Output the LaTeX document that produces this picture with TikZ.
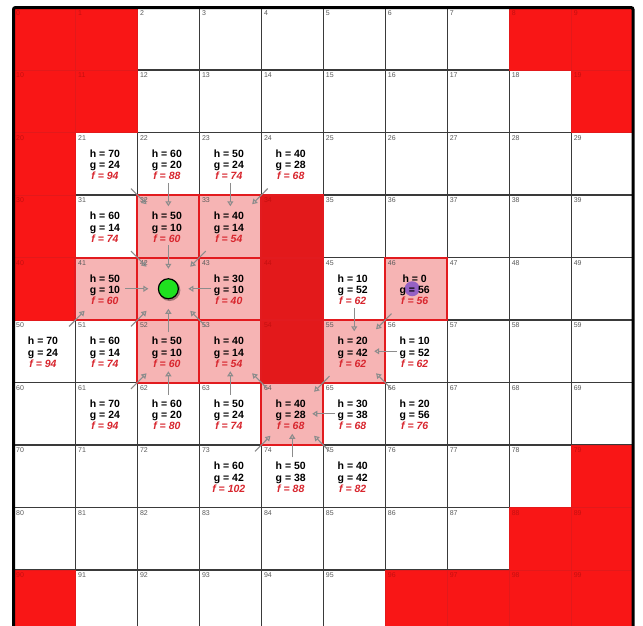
\documentclass[tikz,border=0pt]{standalone}
\usepackage{fontspec}
\setmainfont{Liberation Sans}
\usetikzlibrary{calc,arrows.meta}
\definecolor{obst}{HTML}{F91616}
\definecolor{wallc}{HTML}{E3191B}
\definecolor{pinkc}{HTML}{F6B4B4}
\definecolor{bordr}{HTML}{E21B1F}
\definecolor{fred}{HTML}{D8262E}
\definecolor{numg}{HTML}{5A5A5A}
\definecolor{numr}{HTML}{C41010}
\definecolor{arrg}{HTML}{8C8C8C}
\definecolor{gridc}{HTML}{3A3A3A}
\definecolor{startg}{HTML}{1FE11F}
\definecolor{goalp}{HTML}{8B58C6}
\begin{document}
\begin{tikzpicture}[x=1pt,y=-1pt,
  cellinfo/.style={align=center, font=\fontsize{10.5}{11.3}\selectfont\bfseries, inner sep=0pt},
  cellnum/.style={anchor=north west, font=\fontsize{7}{8}\selectfont, text=numg, inner sep=0pt},
  parr/.style={draw=arrg, line width=1.1pt, -{Triangle[open,length=5pt,width=6pt]}},
  orth/.style={shorten <=19pt, shorten >=20pt},
  diag/.style={shorten <=35pt, shorten >=31pt},
]
\def\X{13.5}\def\Y{7.5}\def\W{61.95}\def\H{62.5}
\useasboundingbox (0,0) rectangle (643,625);
\clip (0,0) rectangle (643,625);
\fill[white] (0,0) rectangle (643,625);
% cell coordinates
\foreach \n in {0,...,99} {
  \pgfmathtruncatemacro\rr{int(\n/10)}
  \pgfmathtruncatemacro\cc{mod(\n,10)}
  \coordinate (c\n) at ({\X+(\cc+0.5)*\W},{\Y+(\rr+0.5)*\H});
  \coordinate (tl\n) at ({\X+\cc*\W},{\Y+\rr*\H});
}
% grid
\foreach \i in {1,...,9} {
  \draw[gridc, line width=1.1pt] ({\X+\i*\W},\Y) -- ({\X+\i*\W},640);
  \draw[gridc, line width=1.1pt] (\X,{\Y+\i*\H}) -- ({\X+10*\W},{\Y+\i*\H});
}
% obstacles
\foreach \n in {0,1,8,9,10,11,19,20,30,40,79,88,89,90,96,97,98,99}
  \filldraw[fill=obst, draw=wallc, line width=0.6pt] (tl\n) rectangle ++(\W,\H);
% wall column
\foreach \n in {34,44,54}
  \filldraw[fill=wallc, draw=bordr, line width=2pt] (tl\n) rectangle ++(\W,\H);
% closed / open cells
\foreach \n in {32,33,41,42,43,52,53,46,55,64}
  \fill[pinkc] (tl\n) rectangle ++(\W,\H);
\foreach \n in {32,33,41,42,43,52,53,46,55,64}
  \draw[bordr, line width=2pt] (tl\n) rectangle ++(\W,\H);
% cell numbers
\foreach \n in {2,3,4,5,6,7,12,13,14,15,16,17,18,21,22,23,24,25,26,27,28,29,31,32,33,35,36,37,38,39,41,42,43,45,46,47,48,49,50,51,52,53,55,56,57,58,59,60,61,62,63,64,65,66,67,68,69,70,71,72,73,74,75,76,77,78,80,81,82,83,84,85,86,87,91,92,93,94,95}
  \node[cellnum] (n\n) at ($(tl\n)+(2.5,2.5)$) {\n};
\foreach \n in {0,1,8,9,10,11,19,20,30,40,79,88,89,90,96,97,98,99,34,44,54}
  \node[cellnum, text=numr] (n\n) at ($(tl\n)+(2.5,2.5)$) {\n};
% outer frame
\draw[black, line width=3pt, rounded corners=2pt] (\X,640) -- (\X,\Y) -- ({\X+10*\W},\Y) -- ({\X+10*\W},640);
% goal marker
\fill[goalp, opacity=0.9] ($(c46)+(-4,0)$) circle (7.5);
% cell values
\foreach \vn/\vh/\vg/\vf in {21/70/24/94, 22/60/20/88, 23/50/24/74, 24/40/28/68, 31/60/14/74, 32/50/10/60, 33/40/14/54, 41/50/10/60, 43/30/10/40, 45/10/52/62, 46/0/56/56, 50/70/24/94, 51/60/14/74, 52/50/10/60, 53/40/14/54, 55/20/42/62, 56/10/52/62, 61/70/24/94, 62/60/20/80, 63/50/24/74, 64/40/28/68, 65/30/38/68, 66/20/56/76, 73/60/42/102, 74/50/38/88, 75/40/42/82}
  \node[cellinfo] (i\vn) at ($(c\vn)+(-1.5,1)$) {h = \vh\\g = \vg\\\textcolor{fred}{\itshape f = \vf}};
% parent arrows
\foreach \a/\b/\t in {21/32/diag, 22/32/orth, 23/33/orth, 24/33/diag, 31/42/diag, 32/42/orth, 33/42/diag, 41/42/orth, 43/42/orth, 51/42/diag, 52/42/orth, 53/42/diag, 50/41/diag, 61/52/diag, 62/52/orth, 63/53/orth, 64/53/diag, 45/55/orth, 46/55/diag, 56/55/orth, 55/64/diag, 65/64/orth, 66/55/diag, 73/64/diag, 74/64/orth, 75/64/diag}
  \draw[parr, \t] (c\a) -- (c\b);
% start marker
\fill[black, opacity=0.35] ($(c42)+(1.2,1.5)$) circle (10.8);
\filldraw[fill=startg, draw=black, line width=1.2pt] (c42) circle (10);
\end{tikzpicture}
\end{document}
